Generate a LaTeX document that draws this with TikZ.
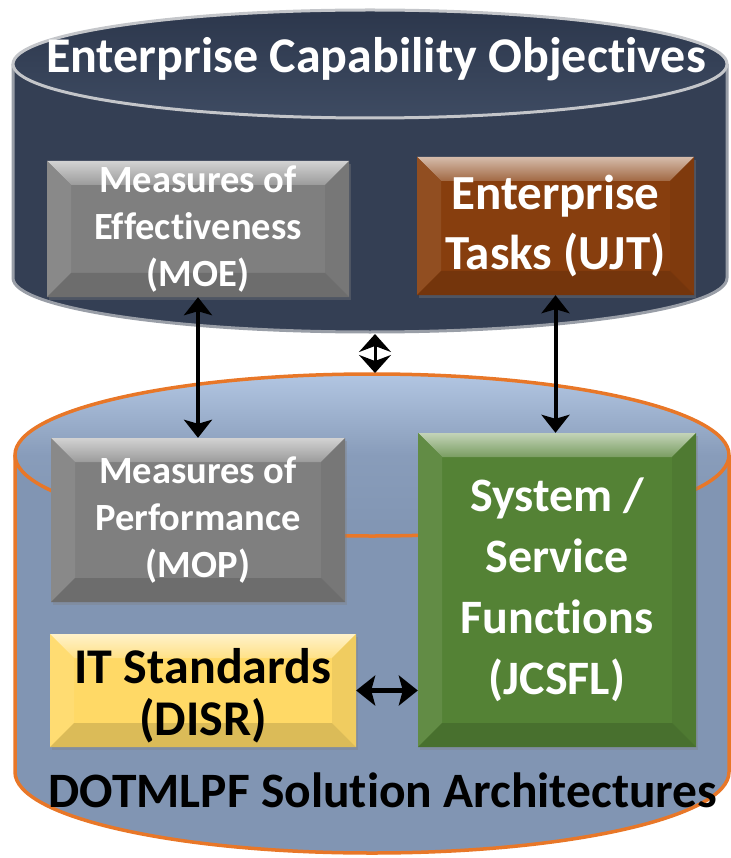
\documentclass[tikz,border=0pt]{standalone}
\usepackage{fontspec}
\setmainfont{Carlito}[Ligatures={NoCommon}]
\usetikzlibrary{arrows.meta,positioning,shadows}

\definecolor{drumdark}{RGB}{52,63,84}
\definecolor{lidtop}{RGB}{44,55,76}
\definecolor{lidbot}{RGB}{62,75,98}
\definecolor{drumsteel}{RGB}{129,149,179}
\definecolor{lidsteel}{RGB}{178,198,226}
\definecolor{rimorange}{RGB}{232,119,40}
\definecolor{rimsilver}{RGB}{196,198,202}
\definecolor{moegrey}{RGB}{127,127,127}
\definecolor{ujtbrown}{RGB}{135,62,14}
\definecolor{sysgreen}{RGB}{84,130,53}
\definecolor{stdyellow}{RGB}{255,217,102}

\newcommand{\bev}{24pt}

\tikzset{
  bevel/.style={fill=#1, inner sep=0pt, align=center,
    drop shadow={shadow xshift=2pt, shadow yshift=-3pt, opacity=0.35},
    path picture={
      \path (path picture bounding box.north west) coordinate (pNW)
            (path picture bounding box.south east) coordinate (pSE);
      \coordinate (pNE) at (pSE |- pNW);
      \coordinate (pSW) at (pNW |- pSE);
      \coordinate (iNW) at ([shift={(\bev,-\bev)}]pNW);
      \coordinate (iNE) at ([shift={(-\bev,-\bev)}]pNE);
      \coordinate (iSW) at ([shift={(\bev,\bev)}]pSW);
      \coordinate (iSE) at ([shift={(-\bev,\bev)}]pSE);
      \shade[top color=#1!35!white, bottom color=#1!78!white]
        (pNW) -- (pNE) -- (iNE) -- (iNW) -- cycle;
      \fill[#1!92!white] (pNW) -- (iNW) -- (iSW) -- (pSW) -- cycle;
      \fill[#1!94!black] (pNE) -- (iNE) -- (iSE) -- (pSE) -- cycle;
      \fill[#1!86!black] (pSW) -- (iSW) -- (iSE) -- (pSE) -- cycle;
    }},
  measure/.style={bevel=moegrey, text=white,
    font=\bfseries\fontsize{38.5}{47}\selectfont},
  bigbox/.style={text=white, font=\bfseries\fontsize{48}{61}\selectfont},
  link/.style={line width=4pt, <->,
    >={Stealth[width=28pt,length=18pt,inset=4pt]}},
}

\begin{document}
\begin{tikzpicture}[x=1pt,y=-1pt]
\useasboundingbox (0,0) rectangle (730,858);

% lower drum: DOTMLPF
\fill[drumsteel] (15,455) rectangle (729,772);
\fill[drumsteel] (372,772) ellipse [x radius=357, y radius=81];
\draw[rimorange, line width=3.5pt] (15,455) -- (15,772)
  arc[start angle=180, end angle=0, x radius=357, y radius=81] -- (729,455);
\draw[rimorange, line width=3.5pt, top color=lidsteel, bottom color=drumsteel,
  middle color=drumsteel!85!lidsteel]
  (372,455) ellipse [x radius=357, y radius=81];

% upper drum: capability objectives
\fill[drumdark] (13,64) rectangle (727,278);
\fill[drumdark] (370,278) ellipse [x radius=357, y radius=54];
\draw[rimsilver!70!drumdark, line width=3pt] (13,64) -- (13,278)
  arc[start angle=180, end angle=0, x radius=357, y radius=54] -- (727,64);
\draw[rimsilver, line width=3pt, top color=lidtop, bottom color=lidbot]
  (370,64) ellipse [x radius=357, y radius=54];

\node[text=white, font=\bfseries\fontsize{50}{60}\selectfont, anchor=base]
  (eco) at (376,73) {Enterprise Capability Objectives};
\node[font=\bfseries\fontsize{49.5}{60}\selectfont, anchor=base]
  (dotmlpf) at (383,807) {DOTMLPF Solution Architectures};

% boxes
\node[measure, minimum width=302, minimum height=136]
  (moe) at (198,229) {Measures of\\Effectiveness\\(MOE)};
\node[bevel=ujtbrown, bigbox, font=\bfseries\fontsize{49}{60}\selectfont,
  minimum width=277, minimum height=138]
  (ujt) at (555.5,226) {Enterprise\\Tasks (UJT)};
\node[measure, minimum width=294, minimum height=164]
  (mop) at (198,520) {Measures of\\Performance\\(MOP)};
\node[bevel=sysgreen, bigbox, minimum width=278, minimum height=314]
  (jcsfl) at (557,590) {System /\\Service\\Functions\\(JCSFL)};
\node[bevel=stdyellow, font=\bfseries\fontsize{50}{52}\selectfont,
  minimum width=306, minimum height=113]
  (disr) at (203,690.5) {\rule{0pt}{45pt}IT Standards\\(DISR)};

% links
\coordinate (upperbase) at (375,334);
\coordinate (lowerlid) at (375,373);
\draw[link] (moe.south) -- (mop.north);
\draw[link] (ujt.south) -- (ujt.south |- jcsfl.north);
\draw[link, line width=3pt, >={Stealth[width=32pt,length=18pt,inset=6pt]}]
  (upperbase) -- (lowerlid);
\draw[link, line width=4.5pt, >={Stealth[width=30pt,length=19pt,inset=4pt]}]
  (disr.east) -- (disr.east -| jcsfl.west);
\end{tikzpicture}
\end{document}
